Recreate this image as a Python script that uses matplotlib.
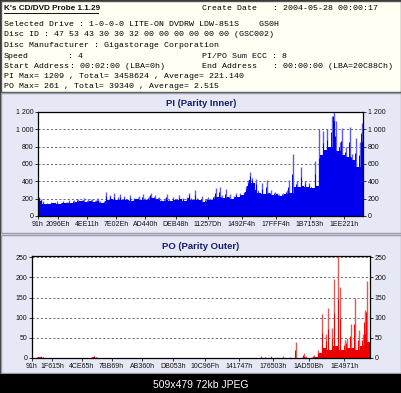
import numpy as np
import matplotlib
matplotlib.use("Agg")
import matplotlib.pyplot as plt
from matplotlib.patches import Rectangle
from matplotlib.ticker import FuncFormatter

# --- header info ---
title_text = "K's CD/DVD Probe 1.1.29"
create_date = "2004-05-28 00:00:17"
drive = "1-0-0-0 LITE-ON DVDRW LDW-851S    GS0H"
disc_id = "47 53 43 30 30 32 00 00 00 00 00 00 (GSC002)"
manufacturer = "Gigastorage Corporation"
speed = "4"
sum_ecc = "8"
start_addr = "00:02:00 (LBA=0h)"
end_addr = "00:00:00 (LBA=20C88Ch)"
pi_stats = "PI Max= 1209 , Total= 3458624 , Average= 221.140"
po_stats = "PO Max= 261 , Total= 39340 , Average= 2.515"
image_note = "509x479 72kb JPEG"

end_lba = 0x20C88C

# --- x tick labels (LBA in hex) ---
pi_xlabels = ["91h", "2096Eh", "4EE11h", "7E02Eh", "AD440h", "DEB48h",
              "11257Dh", "1492F4h", "17FFF4h", "1B7153h", "1EE221h"]
po_xlabels = ["91h", "1F615h", "4CE65h", "7BB69h", "AB360h", "DB053h",
              "10C96Fh", "141747h", "176503h", "1AD50Bh", "1E4971h"]

pi_yticks = [0, 200, 400, 600, 800, 1000, 1200]
po_yticks = [0, 50, 100, 150, 200, 250]

# --- PI samples, evenly spaced over the disc ---
pi_values = [
    220, 200, 170,
    140, 150, 135, 160, 145, 150, 170, 140, 155, 175, 150, 160, 180,
    150, 190, 160, 200, 170, 185, 210, 160, 195, 175, 200, 165, 185, 205, 170,
    150, 175, 280, 190, 240,
    200, 260, 180, 215, 250, 190, 230, 200, 185, 240, 175, 210, 195, 230, 180, 250, 205,
    190, 230, 270, 210, 245, 195, 220, 185,
    170, 210, 250, 190, 175, 220, 200, 185, 240, 195, 210, 175, 225, 270, 205,
    190, 300, 210, 185, 230, 160, 200, 220, 180,
    200, 230, 320, 215, 330, 240, 205, 310, 225, 250, 200, 235, 260, 215, 270, 240,
    280, 350, 420, 510, 440, 380, 430, 300,
    260, 380, 250, 420, 270, 300, 240, 280, 260, 250, 230, 270, 250, 300, 420, 260,
    720,
    340, 400, 330, 560, 350, 400, 330, 380, 340, 320, 640, 350,
    1000, 700, 980, 760, 1000, 800, 1150, 1209,
    1100, 750, 850, 1020, 700, 800, 680, 1030, 720, 650, 900, 560, 850, 1075,
]

# --- PO samples, evenly spaced over the disc ---
po_values = [
    0, 1, 2, 3, 5, 2, 1, 0, 0, 0, 0, 0, 0, 0, 0, 0, 0, 0, 0, 0,
    0, 0, 0, 0, 0, 0, 0, 0, 1, 3, 6, 3, 1, 0, 0, 0, 0, 0, 0, 0,
    0, 0, 0, 0, 0, 0, 0, 0, 0, 0, 0, 0, 0, 0, 0, 0, 0, 0, 0, 0,
    0, 0, 0, 0, 0, 0, 0, 0, 0, 0, 0, 0, 0, 0, 0, 0, 0, 0, 0, 0,
    0, 0, 0, 0, 0, 0, 0, 0, 0, 0, 0, 0, 0, 0, 0, 0, 0, 0, 0, 0,
    0, 0, 0, 0, 0, 0, 0, 0, 0, 0, 0, 1, 5, 1, 3, 0, 1, 6, 1, 0,
    2, 0, 1, 4, 0, 1, 2, 0, 1, 40, 1, 0, 2, 12, 5, 1, 0, 2, 8, 3,
    20, 12, 110, 25, 60, 125, 20, 75, 195, 30, 261, 175, 20, 45, 50, 25,
    85, 25, 150, 20, 70, 30, 60, 120, 190, 40,
]

W, H = 402, 393
PANEL_BG = "#E6E8F5"
HEADER_BG = "#FFFFF4"


def fx(px):
    return px / W


def fy(py):
    return 1 - py / H


def box(fig, x0, y0, x1, y1, **kw):
    fig.add_artist(Rectangle((fx(x0), fy(y1)), fx(x1) - fx(x0), fy(y0) - fy(y1),
                             transform=fig.transFigure, zorder=-5, **kw))


def hex_ticks(labels):
    return [int(s[:-1], 16) for s in labels]


def y_fmt(v, pos):
    return f"{int(v):,}".replace(",", " ")


def draw_chart(fig, rect, values, top, yticks, xlabels, dark, light):
    ax = fig.add_axes(rect, zorder=2)
    vals = np.array(values, dtype=float)
    n = len(vals)
    step = end_lba / n
    xs = (np.arange(n) + 0.5) * step
    # lower envelope drawn as a solid fill, spikes as thin lines
    padded = np.concatenate([[vals[0]], vals, [vals[-1]]])
    base = np.minimum(np.minimum(padded[:-2], padded[1:-1]), padded[2:])
    ax.vlines(xs, 0, vals, color=light, linewidth=1.0, zorder=2)
    ax.vlines(xs - step * 0.25, 0, (vals + base) / 2, color=dark, linewidth=0.7, zorder=2)
    ax.bar(xs, base, width=step * 1.02, color=dark, linewidth=0, zorder=3)
    ax.set_xlim(0, end_lba)
    ax.set_ylim(0, top)
    ax.set_yticks(yticks)
    ax.yaxis.set_major_formatter(FuncFormatter(y_fmt))
    ax.set_xticks(hex_ticks(xlabels))
    ax.set_xticklabels(xlabels)
    ax.tick_params(axis="both", labelsize=5, length=2, width=0.6, pad=1.5,
                   colors="#111111", right=True, labelright=True)
    ax.yaxis.grid(True, linestyle=(0, (2.5, 2.5)), color="#555555", linewidth=0.6, zorder=1)
    ax.set_axisbelow(True)
    for sp in ax.spines.values():
        sp.set_linewidth(0.9)
        sp.set_color("#000000")
        sp.set_zorder(5)
    ax.set_facecolor("white")
    return ax


plt.rcParams["font.family"] = ["Liberation Sans", "DejaVu Sans"]
fig = plt.figure(figsize=(W / 100, H / 100), dpi=100)
fig.patch.set_facecolor(PANEL_BG)

# frame pieces
box(fig, 0, 0, W, 374, facecolor=PANEL_BG, edgecolor="#333333", linewidth=1.5)
box(fig, 1, 1, W - 1, 92, facecolor=HEADER_BG, edgecolor="#555555", linewidth=1.0)
box(fig, 1, 93, W - 1, 233, facecolor=PANEL_BG, edgecolor="#9A9AA8", linewidth=1.0)
box(fig, 1, 235, W - 1, 373, facecolor=PANEL_BG, edgecolor="#9A9AA8", linewidth=1.0)
box(fig, 0, 374, W, H, facecolor="black", edgecolor="none")

# header texts
mono = "Liberation Mono"
fs = 5.95
fig.text(fx(4), fy(8), title_text, fontsize=5.9, fontweight="bold", va="center",
         color="#111111")
fig.add_artist(plt.Line2D([fx(4), fx(98)], [fy(12.5), fy(12.5)],
                          transform=fig.transFigure, color="#111111", linewidth=0.7))
fig.text(fx(202), fy(8), "Create Date", family=mono, fontsize=fs, va="center")
fig.text(fx(273), fy(8), ": " + create_date, family=mono, fontsize=fs, va="center")

rows = [25, 35, 45.5, 56, 66.5, 77, 87]
fig.text(fx(4), fy(rows[0]), "Selected Drive : " + drive, family=mono, fontsize=fs, va="center")
fig.text(fx(4), fy(rows[1]), "Disc ID : " + disc_id, family=mono, fontsize=fs, va="center")
fig.text(fx(4), fy(rows[2]), "Disc Manufacturer : " + manufacturer, family=mono, fontsize=fs, va="center")
fig.text(fx(4), fy(rows[3]), "Speed", family=mono, fontsize=fs, va="center")
fig.text(fx(68), fy(rows[3]), ": " + speed, family=mono, fontsize=fs, va="center")
fig.text(fx(202), fy(rows[3]), "PI/PO Sum ECC : " + sum_ecc, family=mono, fontsize=fs, va="center")
fig.text(fx(4), fy(rows[4]), "Start Address", family=mono, fontsize=fs, va="center")
fig.text(fx(70), fy(rows[4]), ": " + start_addr, family=mono, fontsize=fs, va="center")
fig.text(fx(202), fy(rows[4]), "End Address", family=mono, fontsize=fs, va="center")
fig.text(fx(273), fy(rows[4]), ": " + end_addr, family=mono, fontsize=fs, va="center")
fig.text(fx(4), fy(rows[5]), pi_stats, family=mono, fontsize=fs, va="center")
fig.text(fx(4), fy(rows[6]), po_stats, family=mono, fontsize=fs, va="center")

# PI chart
fig.text(0.5, fy(104), "PI (Parity Inner)", ha="center", va="center", fontsize=6.8,
         fontweight="bold", color="#1A1A70")
draw_chart(fig, [fx(38), fy(216), fx(363) - fx(38), fy(112) - fy(216)],
           pi_values, 1200, pi_yticks, pi_xlabels, "#0000EE", "#5C5CEE")

# PO chart
fig.text(0.5, fy(246), "PO (Parity Outer)", ha="center", va="center", fontsize=6.8,
         fontweight="bold", color="#1A1A70")
draw_chart(fig, [fx(32), fy(358), fx(370) - fx(32), fy(256) - fy(358)],
           po_values, 253, po_yticks, po_xlabels, "#EE0000", "#E05A5A")

fig.text(0.5, fy(385), image_note, ha="center", va="center", fontsize=7.5, color="white")

fig.savefig("out.png", dpi=100, facecolor=fig.get_facecolor())
